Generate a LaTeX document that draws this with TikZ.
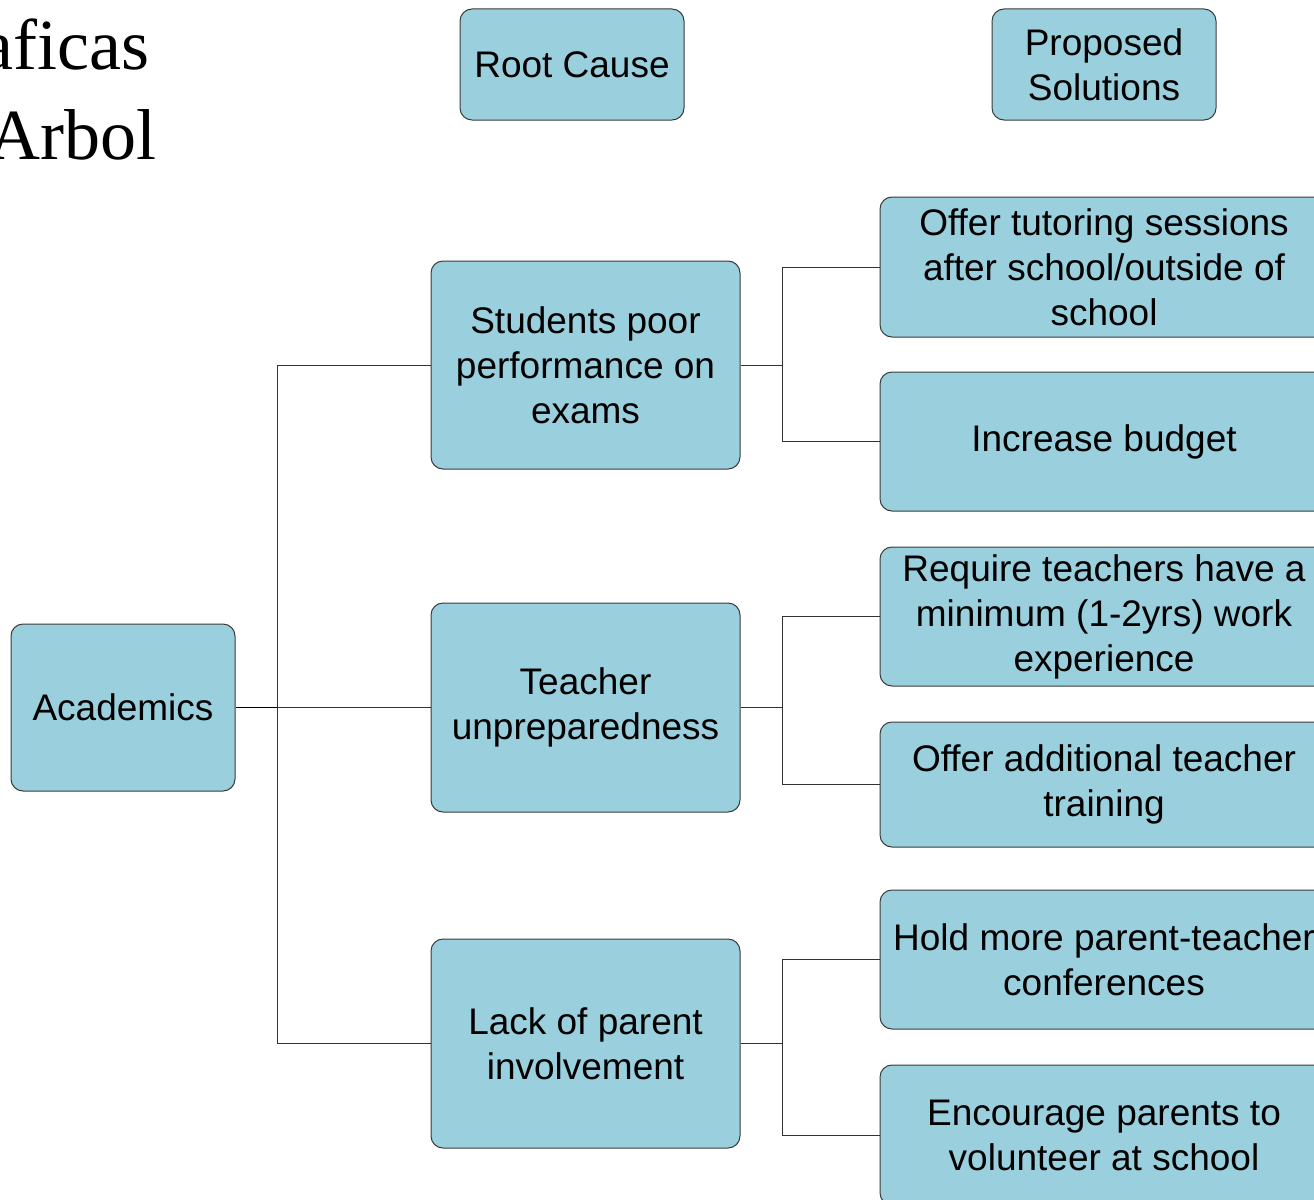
\documentclass[tikz,border=0pt]{standalone}
\usepackage{fontspec}
\setmainfont{Liberation Sans}
\newfontfamily\titlefont{Liberation Serif}
\definecolor{boxfill}{HTML}{9ACFDD}
\definecolor{boxline}{HTML}{3A3A3A}
\begin{document}
\begin{tikzpicture}[x=1pt,y=-1pt,
  box/.style={draw=boxline,line width=1pt,fill=boxfill,rounded corners=12pt,
    inner sep=0pt,align=center,font=\fontsize{37}{45}\selectfont},
  link/.style={draw=black!80,line width=0.9pt},
  title/.style={font=\titlefont\fontsize{72}{88}\selectfont,inner sep=0pt}]
\useasboundingbox (0,0) rectangle (1314,1199);
\clip (0,0) rectangle (1314,1199);
% title fragments (cut at the left edge, as in the reference)
\node[title,anchor=base east] (t1) at (150,70) {aficas};
\node[title,anchor=base east] (t2) at (157,159) {Arbol};
% headers
\node[box,minimum width=224pt,minimum height=111pt] (root) at (572,64.5) {Root Cause};
\node[box,minimum width=224pt,minimum height=111pt] (prop) at (1104,64.5) {Proposed\\Solutions};
% left
\node[box,minimum width=224pt,minimum height=167pt] (acad) at (123,707.5) {Academics};
% causes
\node[box,minimum width=309pt,minimum height=208pt] (stud) at (585.5,365) {Students poor\\performance on\\exams};
\node[box,minimum width=309pt,minimum height=209pt] (teach) at (585.5,707.5) {Teacher\\unpreparedness};
\node[box,minimum width=309pt,minimum height=209pt] (lack) at (585.5,1043.5) {Lack of parent\\involvement};
% solutions
\node[box,minimum width=448pt,minimum height=140pt] (tut) at (1104,267) {Offer tutoring sessions\\after school/outside of\\school};
\node[box,minimum width=448pt,minimum height=139pt] (bud) at (1104,441.5) {Increase budget};
\node[box,minimum width=448pt,minimum height=139pt] (req) at (1104,616.5) {Require teachers have a\\minimum (1-2yrs) work\\experience};
\node[box,minimum width=448pt,minimum height=125pt] (train) at (1104,784.5) {Offer additional teacher\\training};
\node[box,minimum width=448pt,minimum height=139pt] (hold) at (1104,959.5) {Hold more parent-teacher\\conferences};
\node[box,minimum width=448pt,minimum height=140pt] (enc) at (1104,1135) {Encourage parents to\\volunteer at school};
% junctions
\coordinate (ja) at (277,707.5);
\coordinate (js) at (782,365);
\coordinate (jt) at (782,707.5);
\coordinate (jl) at (782,1043.5);
% connectors
\draw[link,line width=1.6pt,draw=black] (acad.east) -- (ja);
\draw[link] (ja) |- (stud.west);
\draw[link] (ja) -- (teach.west);
\draw[link] (ja) |- (lack.west);
\draw[link] (stud.east) -- (js);
\draw[link] (js) |- (tut.west);
\draw[link] (js) |- (bud.west);
\draw[link] (teach.east) -- (jt);
\draw[link] (jt) |- (req.west);
\draw[link] (jt) |- (train.west);
\draw[link] (lack.east) -- (jl);
\draw[link] (jl) |- (hold.west);
\draw[link] (jl) |- (enc.west);
\end{tikzpicture}
\end{document}
